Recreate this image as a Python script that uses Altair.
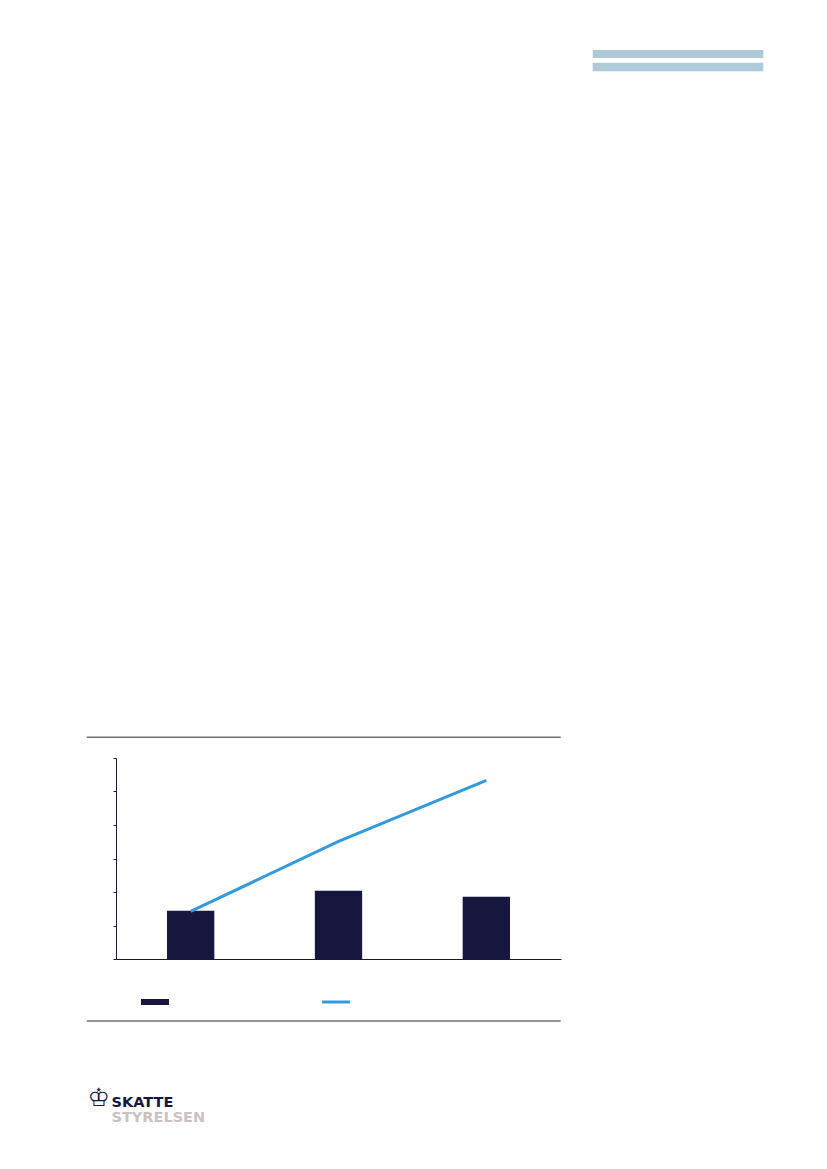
import altair as alt
import pandas as pd

categories = ["1", "2", "3"]
bar_values = [1.44, 2.04, 1.86]
line_values = [1.42, 3.51, 5.33]
y_ticks = [0, 1, 2, 3, 4, 5, 6]

NAVY = "#17163E"
BLUE = "#339ADB"
GREY = "#707070"
PALE = "#AECAD8"
LOGO_GREY = "#CBC1C1"

df = pd.DataFrame({"cat": categories, "bar": bar_values, "line": line_values})
one = alt.Data(values=[{"k": 1}])

x_scale = alt.Scale(paddingInner=0.68, paddingOuter=0.345)
x_axis = alt.Axis(labels=False, ticks=False, domainColor=NAVY, domainWidth=1)
y_scale = alt.Scale(domain=[0, 6], nice=False)
y_axis = alt.Axis(labels=False, values=y_ticks, tickSize=3, tickColor=NAVY,
                  domainColor=NAVY, domainWidth=1, grid=False, title=None)

bars = alt.Chart(df).mark_bar(color=NAVY).encode(
    x=alt.X("cat:N", sort=categories, title=None, scale=x_scale, axis=x_axis),
    y=alt.Y("bar:Q", scale=y_scale, axis=y_axis),
)
line = alt.Chart(df).mark_line(color=BLUE, strokeWidth=3).encode(
    x=alt.X("cat:N", sort=categories, title=None, scale=x_scale, axis=x_axis),
    y=alt.Y("line:Q", scale=y_scale, axis=y_axis),
)

def hrule(x1, x2, y, color, w):
    return alt.Chart(one).mark_rule(color=color, strokeWidth=w).encode(
        x=alt.value(x1), x2=alt.value(x2), y=alt.value(y))

def box(x1, x2, y1, y2, color):
    return alt.Chart(one).mark_rect(color=color).encode(
        x=alt.value(x1), x2=alt.value(x2), y=alt.value(y1), y2=alt.value(y2))

def label(txt, x, y, size, color, bold=True, font="DejaVu Sans"):
    return alt.Chart(one).mark_text(
        align="left", baseline="alphabetic", fontSize=size, font=font,
        fontWeight="bold" if bold else "normal", color=color
    ).encode(x=alt.value(x), y=alt.value(y), text=alt.value(txt))

deco = [
    hrule(-29.3, 444.7, -20.7, GREY, 1.5),
    hrule(-29.3, 444.7, 263, GREY, 1.5),
    box(476.7, 647.3, -708, -700, PALE),
    box(476.7, 647.3, -695.3, -686.7, PALE),
    box(25, 53, 241, 247, NAVY),
    hrule(206, 234, 244, BLUE, 3),
    label("SKATTE", -4.5, 349, 14.5, NAVY),
    label("STYRELSEN", -4.5, 364, 14.5, LOGO_GREY),
    label("\u2654", -28.5, 348, 25, NAVY, bold=False),
]

chart = alt.layer(bars, line, *deco).properties(
    width=445, height=201,
    background="white",
    autosize=alt.AutoSizeParams(type="none"),
    padding={"left": 108, "top": 750, "right": 250, "bottom": 200},
).configure_view(strokeWidth=0, stroke="transparent")

chart.save("out.html", embed_options={"renderer": "svg", "actions": False})
